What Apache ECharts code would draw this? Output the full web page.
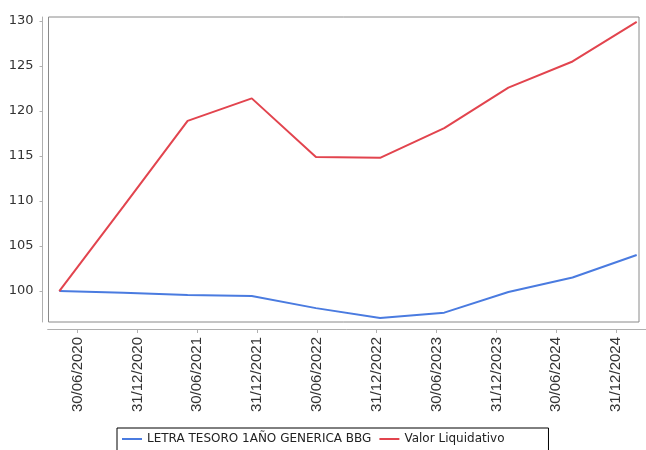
<!DOCTYPE html>
<html>
<head>
<meta charset="utf-8">
<script src="https://cdn.jsdelivr.net/npm/echarts@6/dist/echarts.min.js"></script>
<style>html,body{margin:0;padding:0;background:#fff;}#c{width:646px;height:450px;}</style>
</head>
<body>
<div id="c"></div>
<script>
const dates = ['30/06/2020','31/12/2020','30/06/2021','31/12/2021','30/06/2022','31/12/2022','30/06/2023','31/12/2023','30/06/2024','31/12/2024'];
const letraTesoro = [100, 99.8, 99.55, 99.45, 98.1, 97.0, 97.6, 99.9, 101.5, 104.0];
const valorLiquidativo = [100, 109.4, 118.9, 121.4, 114.9, 114.8, 118.1, 122.6, 125.5, 129.9];
const yTicks = [100, 105, 110, 115, 120, 125, 130];
const seriesNames = ['LETRA TESORO 1AÑO GENERICA BBG', 'Valor Liquidativo'];

const Y_MIN = 96.56, Y_MAX = 130.44;
const font = 'DejaVu Sans';
const chart = echarts.init(document.getElementById('c'), null, {renderer: 'canvas'});
chart.setOption({
  animation: false,
  backgroundColor: '#fff',
  grid: [
    {left: 48.5, right: 7, top: 17, bottom: 128, show: true, borderColor: '#8a8a8a', borderWidth: 1, backgroundColor: 'transparent'},
    {left: 59.3, right: 9.3, top: 17, bottom: 128},
    {left: 47.65, width: 601.1, top: 17, bottom: 128}
  ],
  xAxis: [
    {gridIndex: 0, type: 'category', data: dates, show: false},
    {gridIndex: 1, type: 'category', data: dates, boundaryGap: false, show: false},
    {gridIndex: 2, type: 'category', data: dates, boundaryGap: true, offset: 7,
     axisLine: {show: true, lineStyle: {color: '#b0b0b0', width: 1}},
     axisTick: {show: true, alignWithLabel: true, length: 4, lineStyle: {color: '#b0b0b0'}},
     axisLabel: {rotate: 90, margin: 8, fontFamily: 'Liberation Sans', fontSize: 15, color: '#333', interval: 0},
     splitLine: {show: false}}
  ],
  yAxis: [
    {gridIndex: 0, type: 'value', min: Y_MIN, max: Y_MAX, offset: 6,
     axisLine: {show: true, lineStyle: {color: '#b0b0b0', width: 1}},
     axisTick: {show: true, length: 3, customValues: yTicks, lineStyle: {color: '#b0b0b0'}},
     axisLabel: {customValues: yTicks, margin: 9, fontFamily: font, fontSize: 13, color: '#333'},
     splitLine: {show: false}},
    {gridIndex: 1, type: 'value', min: Y_MIN, max: Y_MAX, show: false},
    {gridIndex: 2, type: 'value', min: Y_MIN, max: Y_MAX, show: false}
  ],
  legend: {
    left: 117, top: 428,
    data: seriesNames,
    icon: 'rect', itemWidth: 20, itemHeight: 2, itemGap: 8,
    borderColor: '#000', borderWidth: 1, padding: [5, 44, 6, 5],
    textStyle: {fontFamily: font, fontSize: 12, color: '#222'}
  },
  series: [
    {name: seriesNames[0], type: 'line', xAxisIndex: 1, yAxisIndex: 1, data: letraTesoro,
     showSymbol: false, color: '#4a7be0', lineStyle: {width: 2, color: '#4a7be0'}},
    {name: seriesNames[1], type: 'line', xAxisIndex: 1, yAxisIndex: 1, data: valorLiquidativo,
     showSymbol: false, color: '#e2444e', lineStyle: {width: 2, color: '#e2444e'}}
  ]
});
</script>
</body>
</html>
